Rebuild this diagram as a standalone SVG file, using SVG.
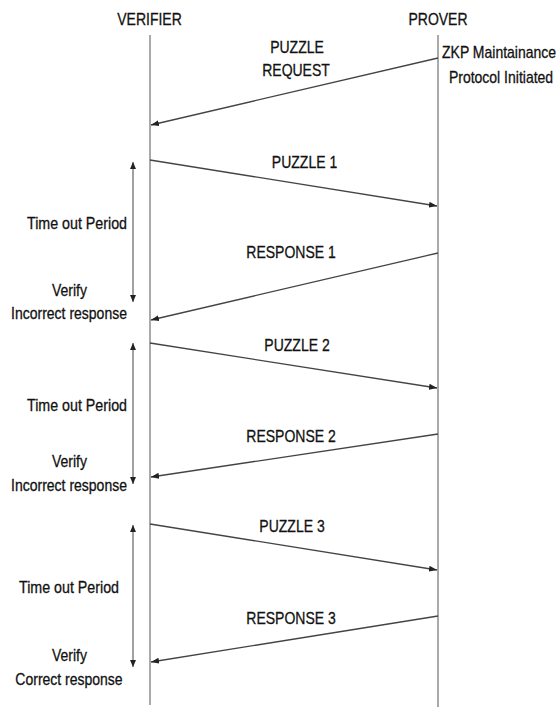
<svg xmlns="http://www.w3.org/2000/svg" width="559" height="708" viewBox="0 0 559 708">
  <style>
    .lbl { font-family: "Liberation Sans", Arial, sans-serif; font-size: 14px; fill: #111; stroke: #111; stroke-width: 0.25; }
    .mid { text-anchor: middle; }
    .life { stroke: #555; stroke-width: 1; fill: none; }
    .msg { stroke: #444; stroke-width: 1.3; fill: none; marker-end: url(#head); }
    .span { stroke: #444; stroke-width: 1; fill: none; marker-start: url(#tip); marker-end: url(#tip); }
  </style>
  <defs>
    <marker id="head" markerUnits="userSpaceOnUse" markerWidth="9" markerHeight="7" refX="8" refY="3.5" orient="auto">
      <path d="M0,0.5 L8,3.5 L0,6.5 z" fill="#222"/>
    </marker>
    <marker id="tip" markerUnits="userSpaceOnUse" markerWidth="8" markerHeight="6" refX="7" refY="3" orient="auto-start-reverse">
      <path d="M0,0 L7,3 L0,6 z" fill="#222"/>
    </marker>
  </defs>

  <rect width="559" height="708" fill="#fff"/>

  <!-- lifelines -->
  <g id="verifier">
    <text class="lbl mid" transform="translate(149.5,25) scale(1,1.2)">VERIFIER</text>
    <line class="life" x1="150" y1="35" x2="150" y2="705"/>
  </g>
  <g id="prover">
    <text class="lbl mid" transform="translate(438,25) scale(1,1.2)">PROVER</text>
    <line class="life" x1="438" y1="35" x2="438" y2="707"/>
    <text class="lbl" transform="translate(442,58) scale(1,1.2)">ZKP Maintainance</text>
    <text class="lbl mid" transform="translate(501,83) scale(1,1.2)">Protocol Initiated</text>
  </g>

  <!-- messages between verifier and prover -->
  <g id="connectors">
    <line class="msg" x1="438" y1="58" x2="151" y2="125"/>
    <line class="msg" x1="150" y1="160" x2="437" y2="206"/>
    <line class="msg" x1="438" y1="253" x2="151" y2="320"/>
    <line class="msg" x1="150" y1="343" x2="437" y2="388"/>
    <line class="msg" x1="438" y1="434" x2="151" y2="477"/>
    <line class="msg" x1="150" y1="524" x2="437" y2="570"/>
    <line class="msg" x1="438" y1="616" x2="151" y2="662"/>
  </g>

  <!-- message labels -->
  <g id="labels">
    <text class="lbl mid" transform="translate(297,53) scale(1,1.2)">PUZZLE</text>
    <text class="lbl mid" transform="translate(296,76) scale(1,1.2)">REQUEST</text>
    <text class="lbl mid" transform="translate(304.5,168) scale(1,1.2)">PUZZLE 1</text>
    <text class="lbl mid" transform="translate(291,258) scale(1,1.2)">RESPONSE 1</text>
    <text class="lbl mid" transform="translate(297,351) scale(1,1.2)">PUZZLE 2</text>
    <text class="lbl mid" transform="translate(291,442) scale(1,1.2)">RESPONSE 2</text>
    <text class="lbl mid" transform="translate(292,532) scale(1,1.2)">PUZZLE 3</text>
    <text class="lbl mid" transform="translate(291,624) scale(1,1.2)">RESPONSE 3</text>
  </g>

  <!-- time-out rounds -->
  <g id="round1">
    <line class="span" x1="133" y1="162" x2="133" y2="302"/>
    <text class="lbl mid" textLength="100" lengthAdjust="spacingAndGlyphs" transform="translate(77,229) scale(1,1.2)">Time out Period</text>
    <text class="lbl mid" transform="translate(69.5,296) scale(1,1.2)">Verify</text>
    <text class="lbl mid" transform="translate(69,319) scale(1,1.2)">Incorrect response</text>
  </g>
  <g id="round2">
    <line class="span" x1="133" y1="343" x2="133" y2="484"/>
    <text class="lbl mid" textLength="100" lengthAdjust="spacingAndGlyphs" transform="translate(77,411) scale(1,1.2)">Time out Period</text>
    <text class="lbl mid" transform="translate(69.5,467) scale(1,1.2)">Verify</text>
    <text class="lbl mid" transform="translate(69,491) scale(1,1.2)">Incorrect response</text>
  </g>
  <g id="round3">
    <line class="span" x1="133" y1="525" x2="133" y2="667"/>
    <text class="lbl mid" textLength="100" lengthAdjust="spacingAndGlyphs" transform="translate(69,593) scale(1,1.2)">Time out Period</text>
    <text class="lbl mid" transform="translate(69.5,661) scale(1,1.2)">Verify</text>
    <text class="lbl mid" transform="translate(69,685) scale(1,1.2)">Correct response</text>
  </g>
</svg>
